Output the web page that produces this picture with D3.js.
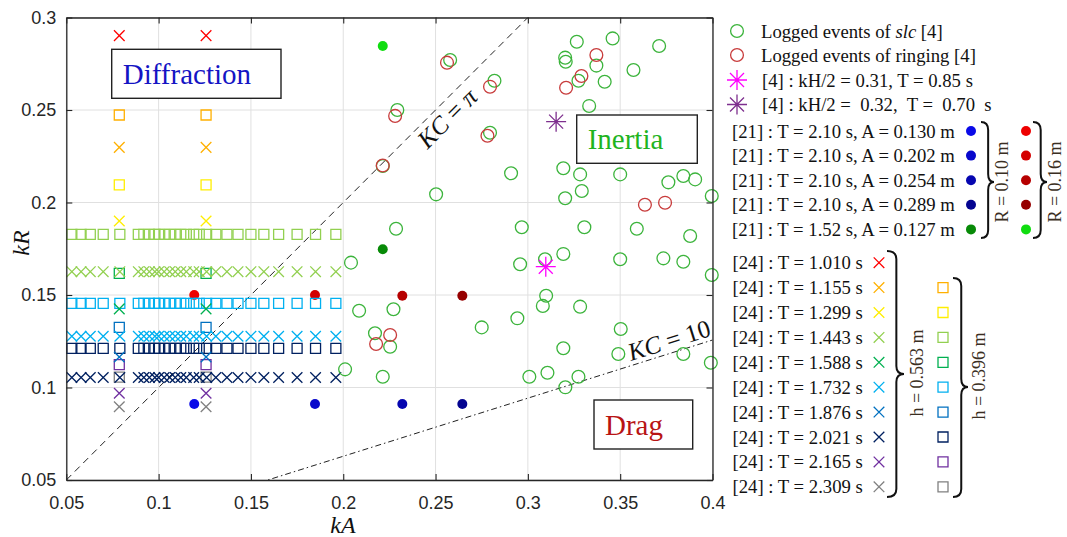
<!DOCTYPE html>
<html><head><meta charset="utf-8">
<script src="https://cdn.jsdelivr.net/npm/d3@7"></script>
<style>body{margin:0;background:#fff}svg{display:block}</style>
</head><body><svg id="c" width="1067" height="537"></svg>
<script>
// ---------------- data ----------------
const xTickLabels = ["0.05","0.1","0.15","0.2","0.25","0.3","0.35","0.4"];
const yTickLabels = ["0.05","0.1","0.15","0.2","0.25","0.3"];

const slcKA = [0.2579,0.2819,0.2293,0.2795,0.2214,0.2909,0.2503,0.3265,0.3459,0.3711,0.3202,0.3205,0.3371,0.3572,0.3274,0.3416,0.3332,0.3192,0.3283,0.3500,0.3761,0.3842,0.3906,0.3996,0.3292,0.3202,0.2286,0.2967,0.3306,0.3590,0.3879,0.2042,0.2958,0.3192,0.3500,0.3734,0.3842,0.3093,0.3996,0.2086,0.2272,0.2172,0.2254,0.2010,0.2214,0.2750,0.2943,0.3099,0.3081,0.3283,0.3503,0.3192,0.3490,0.3842,0.3991,0.3008,0.3106,0.3274,0.3203];
const slcKR = [0.2770,0.2658,0.2500,0.2377,0.2197,0.2158,0.2044,0.2869,0.2887,0.2846,0.2783,0.2761,0.2740,0.2716,0.2658,0.2653,0.2522,0.2185,0.2152,0.2152,0.2109,0.2143,0.2125,0.2035,0.2062,0.2023,0.1858,0.1866,0.1866,0.1858,0.1819,0.1675,0.1666,0.1722,0.1693,0.1698,0.1680,0.1693,0.1608,0.1415,0.1423,0.1293,0.1220,0.1098,0.1058,0.1325,0.1374,0.1496,0.1441,0.1437,0.1316,0.1212,0.1181,0.1181,0.1134,0.1058,0.1080,0.1058,0.1001];

const ringKA = [0.2562,0.2795,0.2281,0.2781,0.2214,0.3371,0.3290,0.3207,0.3634,0.3743,0.2254,0.2178];
const ringKR = [0.2756,0.2626,0.2468,0.2361,0.2200,0.2797,0.2684,0.2620,0.1988,0.1999,0.1284,0.1235];

const starLabels = ["[4] : kH/2 = 0.31, T = 0.85 s", "[4] : kH/2 =  0.32,  T =  0.70  s"];
const starKA = [0.3097, 0.3153];
const starKR = [0.1653, 0.2437];
const starColors = ["#ff00ff", "#7e2f8e"];

const r21Labels = ["[21] : T = 2.10 s, A = 0.130 m","[21] : T = 2.10 s, A = 0.202 m","[21] : T = 2.10 s, A = 0.254 m","[21] : T = 2.10 s, A = 0.289 m","[21] : T = 1.52 s, A = 0.127 m"];
const r21KA = [0.1193, 0.1847, 0.2320, 0.2645, 0.2214];
const r21KR10 = [0.0911, 0.0911, 0.0911, 0.0911, 0.1747];
const r21KR16 = [0.1500, 0.1500, 0.1496, 0.1496, 0.2846];
const r21Colors10 = ["#0a0ae8","#0808cc","#0606b0","#040490","#078a07"];
const r21Colors16 = ["#ee0000","#d40000","#b60000","#960000","#10dd10"];

const t24Periods = ["1.010","1.155","1.299","1.443","1.588","1.732","1.876","2.021","2.165","2.309"];
const t24Colors = ["#ff0000","#ffb000","#ffee00","#92d050","#00b050","#00b0f0","#0070c0","#002060","#7030a0","#808080"];
const t24CrossKR = [0.2902,0.2298,0.1900,0.1626,0.1425,0.1277,0.1165,0.1054,0.0969,0.0896];
const t24SquareKR = [null,0.2473,0.2095,0.1828,0.1617,0.1455,0.1325,0.1212,0.1124,0.1056];
const t24ColumnKA = [0.0787, 0.1257];
const t24RowKA = [0.053,0.058,0.063,0.070,0.079,0.089,0.092,0.095,0.098,0.100,0.103,0.106,0.109,0.112,0.115,0.119,0.122,0.126,0.131,0.137,0.143,0.150,0.157,0.165,0.175,0.185,0.196];
const t24RowIdx = [3, 5, 7];

const kcValues = [Math.PI, 10];

// ---------------- layout ----------------
const svg = d3.select("#c");
const X0 = 66.3, X1 = 712.5, Y0 = 480, Y1 = 17.5;
const x = d3.scaleLinear().domain([0.05, 0.4]).range([X0, X1]);
const y = d3.scaleLinear().domain([0.05, 0.3]).range([Y0, Y1]);
const xTicks = xTickLabels.map(Number), yTicks = yTickLabels.map(Number);
const AX = "#262626";
const SANS = "'Liberation Sans', Arial, sans-serif";
const SERIF = "'Liberation Serif', 'Times New Roman', serif";

svg.append("defs").append("clipPath").attr("id","clip")
  .append("rect").attr("x",X0).attr("y",Y1).attr("width",X1-X0).attr("height",Y0-Y1);

// grid
const grid = svg.append("g").attr("stroke","#e0e0e0").attr("stroke-width",1);
grid.selectAll(".gx").data(xTicks).join("line")
  .attr("x1",d=>x(d)).attr("x2",d=>x(d)).attr("y1",Y0).attr("y2",Y1);
grid.selectAll(".gy").data(yTicks).join("line")
  .attr("y1",d=>y(d)).attr("y2",d=>y(d)).attr("x1",X0).attr("x2",X1);

// KC lines
const lineGen = d3.line().x(d=>x(d[0])).y(d=>y(d[1]));
const kcDash = ["7,5", "6,3,1.5,3"];
kcValues.forEach((kc, i) => {
  const pts = [0.05, 0.4].map(a => [a, Math.PI * a / kc]);
  svg.append("path").attr("clip-path","url(#clip)")
    .attr("d", lineGen(pts)).attr("fill","none").attr("stroke","#222")
    .attr("stroke-width",1).attr("stroke-dasharray",kcDash[i]);
});
function kcLabel(cx, cy, kc, rhs, italicRhs) {
  const p0 = [x(0.05), y(Math.PI*0.05/kc)], p1 = [x(0.4), y(Math.PI*0.4/kc)];
  const ang = Math.atan2(p1[1]-p0[1], p1[0]-p0[0]) * 180 / Math.PI;
  const t = svg.append("text").attr("transform",`translate(${cx},${cy}) rotate(${ang})`)
    .attr("text-anchor","middle").attr("dy","0.35em")
    .attr("font-family",SERIF).attr("font-size",25).attr("fill","#111");
  t.append("tspan").attr("font-style","italic").text("KC");
  t.append("tspan").text(" = ");
  t.append("tspan").attr("font-style", italicRhs ? "italic" : "normal").text(rhs);
}
kcLabel(447, 118, Math.PI, "π", true);
kcLabel(669, 340, 10, "10", false);

// region boxes
function regionBox(bx, by, bw, bh, label, color) {
  svg.append("rect").attr("x",bx).attr("y",by).attr("width",bw).attr("height",bh)
    .attr("fill","#fff").attr("stroke","#222").attr("stroke-width",1.4);
  svg.append("text").attr("x",bx+11).attr("y",by+bh/2).attr("dy","0.35em")
    .attr("font-family",SERIF).attr("font-size",29).attr("fill",color).text(label);
}
regionBox(111.7, 49.3, 169.3, 49, "Diffraction", "#1414c4");
regionBox(576.7, 115, 120.6, 48.3, "Inertia", "#1fb41f");
regionBox(594, 400, 98.7, 49, "Drag", "#b81414");

// marker shapes
const SHAPES = {
  circle: "M6.4,0A6.4,6.4 0 1,1 -6.4,0A6.4,6.4 0 1,1 6.4,0Z",
  cross: "M-5.3,-5.3L5.3,5.3M-5.3,5.3L5.3,-5.3",
  square: "M-5,-5H5V5H-5Z",
  star: "M0,-10V10M-10,0H10M-7,-7L7,7M-7,7L7,-7",
  dot: "M5,0A5,5 0 1,1 -5,0A5,5 0 1,1 5,0Z"
};
function styleMarker(sel, shape, color) {
  sel.attr("d", SHAPES[shape]);
  if (shape === "dot") sel.attr("fill", color).attr("stroke", "none");
  else sel.attr("fill","none").attr("stroke",color).attr("stroke-width",1.3);
  return sel;
}
function series(ka, kr, shape, colorFn) {
  const data = d3.zip(ka, kr).map((d,i)=>({a:d[0], r:d[1], i}));
  const g = svg.append("g");
  g.selectAll("path").data(data).join("path")
    .attr("transform", d => `translate(${x(d.a)},${y(d.r)})`)
    .each(function(d){ styleMarker(d3.select(this), shape, typeof colorFn === "function" ? colorFn(d.i) : colorFn); });
}

// [21] filled dots
series(r21KA, r21KR10, "dot", i => r21Colors10[i]);
series(r21KA, r21KR16, "dot", i => r21Colors16[i]);

// [24] squares then crosses
t24Periods.forEach((p, i) => {
  const ka = t24RowIdx.includes(i) ? t24RowKA : t24ColumnKA;
  if (t24SquareKR[i] !== null) series(ka, ka.map(()=>t24SquareKR[i]), "square", t24Colors[i]);
});
t24Periods.forEach((p, i) => {
  const ka = t24RowIdx.includes(i) ? t24RowKA : t24ColumnKA;
  series(ka, ka.map(()=>t24CrossKR[i]), "cross", t24Colors[i]);
});

// [4] circles and stars
series(slcKA, slcKR, "circle", "#3cb43c");
series(ringKA, ringKR, "circle", "#c83c3c");
series(starKA, starKR, "star", i => starColors[i]);

// axes
function styleAxis(g, showText) {
  g.select(".domain").attr("stroke",AX).attr("stroke-width",1.3);
  g.selectAll(".tick line").attr("stroke",AX).attr("stroke-width",1.1);
  g.selectAll(".tick text").attr("fill",AX).attr("font-family",SANS).attr("font-size",18);
  if (!showText) g.selectAll(".tick text").remove();
}
svg.append("g").attr("transform",`translate(0,${Y0})`)
  .call(d3.axisBottom(x).tickValues(xTicks).tickFormat((d,i)=>xTickLabels[i]).tickSizeInner(-6).tickSizeOuter(0).tickPadding(16))
  .call(g=>styleAxis(g,true));
svg.append("g").attr("transform",`translate(0,${Y1})`)
  .call(d3.axisTop(x).tickValues(xTicks).tickFormat(()=>"").tickSizeInner(-6).tickSizeOuter(0))
  .call(g=>styleAxis(g,false));
svg.append("g").attr("transform",`translate(${X0},0)`)
  .call(d3.axisLeft(y).tickValues(yTicks).tickFormat((d,i)=>yTickLabels[i]).tickSizeInner(-6).tickSizeOuter(0).tickPadding(10))
  .call(g=>styleAxis(g,true));
svg.append("g").attr("transform",`translate(${X1},0)`)
  .call(d3.axisRight(y).tickValues(yTicks).tickFormat(()=>"").tickSizeInner(-6).tickSizeOuter(0))
  .call(g=>styleAxis(g,false));

// axis titles
svg.append("text").attr("x",343).attr("y",533).attr("text-anchor","middle")
  .attr("font-family",SERIF).attr("font-style","italic").attr("font-size",24).attr("fill","#111").text("kA");
svg.append("text").attr("transform","translate(29,243) rotate(-90)").attr("text-anchor","middle")
  .attr("font-family",SERIF).attr("font-style","italic").attr("font-size",24).attr("fill","#111").text("kR");

// ---------------- legend ----------------
const leg = svg.append("g").attr("font-family",SERIF).attr("font-size",18.7).attr("fill","#111");
function legMarker(cx, cy, shape, color) {
  styleMarker(leg.append("path").attr("transform",`translate(${cx},${cy})`), shape, color);
}
function legText(tx, ty) {
  return leg.append("text").attr("x",tx).attr("y",ty).attr("dy","0.35em");
}
// [4]
legMarker(737, 31, "circle", "#3cb43c");
const t1 = legText(761, 31);
t1.append("tspan").text("Logged events of ");
t1.append("tspan").attr("font-style","italic").text("slc");
t1.append("tspan").text(" [4]");
legMarker(737, 55, "circle", "#c83c3c");
legText(761, 55).text("Logged events of ringing [4]");
starLabels.forEach((s, i) => {
  legMarker(737, 80 + i*24.5, "star", starColors[i]);
  legText(762, 80 + i*24.5).attr("xml:space","preserve").style("white-space","pre").text(s);
});
// [21]
r21Labels.forEach((s, i) => {
  const cy = 131 + i*24.6;
  legText(732, cy).text(s);
  legMarker(971, cy, "dot", r21Colors10[i]);
  legMarker(1026, cy, "dot", r21Colors16[i]);
});
// [24]
t24Periods.forEach((p, i) => {
  const cy = 262.7 + i*24.9;
  legText(732.5, cy).text(`[24] : T = ${p} s`);
  legMarker(879, cy, "cross", t24Colors[i]);
  if (t24SquareKR[i] !== null) legMarker(943, cy, "square", t24Colors[i]);
});

// braces
function brace(bx, y0, y1, tipX, ym) {
  const w = tipX - bx, mx = bx + w*0.55, r = 8;
  const d = `M${bx},${y0} Q${mx},${y0} ${mx},${y0+r} L${mx},${ym-r} Q${mx},${ym} ${tipX},${ym}` +
            ` Q${mx},${ym} ${mx},${ym+r} L${mx},${y1-r} Q${mx},${y1} ${bx},${y1}`;
  svg.append("path").attr("d",d).attr("fill","none").attr("stroke","#111").attr("stroke-width",2);
}
function vText(cx, cy, s) {
  leg.append("text").attr("transform",`translate(${cx},${cy}) rotate(-90)`)
    .attr("text-anchor","middle").attr("dy","0.32em").attr("font-size",18).attr("fill","#3a2e22").text(s);
}
brace(981, 122, 238, 994, 182);
vText(1002, 182, "R = 0.10 m");
brace(1033, 122, 238, 1047, 182);
vText(1055, 182, "R = 0.16 m");
brace(887, 251, 497, 904, 374);
vText(917, 373, "h = 0.563 m");
brace(953, 278, 497, 968, 387);
vText(979, 376, "h = 0.396 m");
</script></body></html>
